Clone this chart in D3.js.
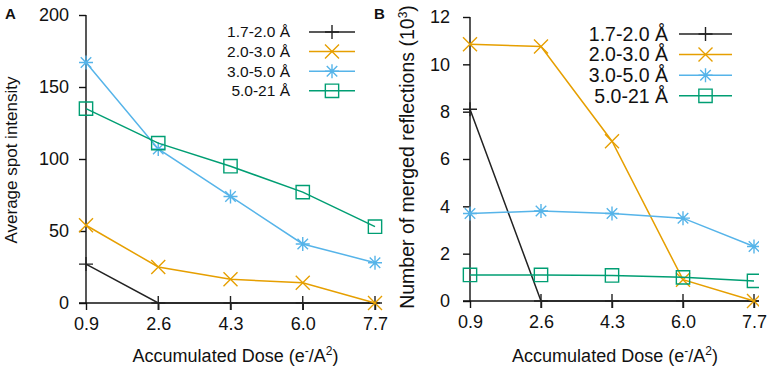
<!DOCTYPE html>
<html>
<head>
<meta charset="utf-8">
<script src="https://cdnjs.cloudflare.com/ajax/libs/d3/7.8.5/d3.min.js"></script>
<style>
  body { margin: 0; background: #fff; }
  svg { display: block; font-family: "Liberation Sans", Arial, sans-serif; }
</style>
</head>
<body>
<div id="chart"></div>
<script>
// accumulated dose values (x) and their tick labels
var doses = [0.9, 2.6, 4.3, 6.0, 7.7];
var doseLabels = ["0.9", "2.6", "4.3", "6.0", "7.7"];

// resolution shells
var shells = ["1.7-2.0 Å", "2.0-3.0 Å", "3.0-5.0 Å", "5.0-21 Å"];
var colors = ["#222222", "#E69F00", "#56B4E9", "#009E73"];
var markers = ["plus", "cross", "star", "square"];

// panel A: average spot intensity
var intensity17 = [27, 0, 0, 0, 0];
var intensity20 = [54, 25, 16.5, 14, 0];
var intensity30 = [167, 107, 74, 41, 28];
var intensity50 = [135, 111, 95, 77, 53];
var ticksA = [0, 50, 100, 150, 200];

// panel B: number of merged reflections (10^3)
var refl17 = [8.1, 0, 0, 0, 0];
var refl20 = [10.85, 10.75, 6.75, 0.9, 0];
var refl30 = [3.7, 3.8, 3.7, 3.5, 2.3];
var refl50 = [1.1, 1.1, 1.08, 1.0, 0.85];
var ticksB = [0, 2, 4, 6, 8, 10, 12];

var width = 772, height = 372;
var ink = '#111';

var svg = d3.select('#chart')
  .append('svg')
  .attr('width', width)
  .attr('height', height);

// draws one marker shape centred on 0,0
function markerPath(type, s) {
  if (type == "plus") return "M" + (-s) + ",0H" + s + "M0," + (-s) + "V" + s;
  if (type == "cross") return "M" + (-s) + "," + (-s) + "L" + s + "," + s + "M" + (-s) + "," + s + "L" + s + "," + (-s);
  if (type == "star") return markerPath("plus", s) + markerPath("cross", s * 0.75);
  var q = s * 0.95;
  return "M" + (-q) + "," + (-q) + "H" + q + "V" + q + "H" + (-q) + "Z";
}

function drawPanel(p) {
  var g = svg.append('g');

  var x = d3.scaleLinear().domain([0.9, 7.7]).range([p.left, p.right]);
  var y = d3.scaleLinear().domain(p.yDomain).range([p.bottom, p.top]);

  // clip the data marks like the original plot area
  g.append('clipPath').attr('id', 'clip' + p.label)
    .append('rect')
    .attr('x', p.left - 20).attr('y', 0)
    .attr('width', p.clipRight - p.left + 20).attr('height', height);

  // y axis
  var yAxis = g.append('g')
    .attr('transform', 'translate(' + p.left + ',0)')
    .call(d3.axisLeft(y).tickValues(p.yTicks).tickSize(7).tickSizeOuter(0).tickPadding(p.yPad));
  yAxis.select('.domain').remove();
  yAxis.selectAll('line').attr('stroke', ink).attr('stroke-width', 1.4);
  yAxis.selectAll('text').attr('font-size', 18).attr('fill', ink)
    .attr('font-family', '"Liberation Sans", Arial, sans-serif');

  // x axis
  var xAxis = g.append('g')
    .attr('transform', 'translate(0,' + p.bottom + ')')
    .call(d3.axisBottom(x).tickValues(doses).tickFormat(function(d, i) { return doseLabels[i]; })
      .tickSize(7).tickSizeOuter(0).tickPadding(7));
  xAxis.select('.domain').remove();
  xAxis.selectAll('line').attr('stroke', ink).attr('stroke-width', 1.4);
  xAxis.selectAll('text').attr('font-size', 18).attr('fill', ink)
    .attr('font-family', '"Liberation Sans", Arial, sans-serif');

  // axis lines
  g.append('line')
    .attr('x1', p.left).attr('x2', p.left)
    .attr('y1', p.top).attr('y2', p.bottom)
    .attr('stroke', ink).attr('stroke-width', 1.4);
  g.append('line')
    .attr('x1', p.left - 7).attr('x2', p.right + 5)
    .attr('y1', p.bottom).attr('y2', p.bottom)
    .attr('stroke', ink).attr('stroke-width', 1.4);

  var line = d3.line()
    .x(function(d, i) { return x(doses[i]); })
    .y(function(d) { return y(d); });

  var marks = g.append('g').attr('clip-path', 'url(#clip' + p.label + ')');

  p.series.forEach(function(vals, k) {
    marks.append('path')
      .attr('d', line(vals))
      .attr('fill', 'none')
      .attr('stroke', colors[k])
      .attr('stroke-width', 1.5);

    marks.selectAll('.m' + k)
      .data(vals)
      .enter()
      .append('path')
      .attr('class', 'm' + k)
      .attr('transform', function(d, i) { return 'translate(' + x(doses[i]) + ',' + y(d) + ')'; })
      .attr('d', markerPath(markers[k], 7))
      .attr('fill', 'none')
      .attr('stroke', colors[k])
      .attr('stroke-width', 1.4);

    if (markers[k] == "star") {
      marks.selectAll('.d' + k)
        .data(vals)
        .enter()
        .append('circle')
        .attr('cx', function(d, i) { return x(doses[i]); })
        .attr('cy', function(d) { return y(d); })
        .attr('r', 1.6)
        .attr('fill', colors[k]);
    }
  });

  // legend
  var leg = g.append('g');
  shells.forEach(function(s, k) {
    var ly = p.legTop + k * p.legStep;
    var mx = (p.legLine[0] + p.legLine[1]) / 2;
    leg.append('text')
      .attr('x', p.legText).attr('y', ly)
      .attr('dy', '0.35em')
      .attr('text-anchor', 'end')
      .attr('font-size', p.legFont)
      .attr('fill', ink)
      .text(s);
    leg.append('line')
      .attr('x1', p.legLine[0]).attr('x2', p.legLine[1])
      .attr('y1', ly).attr('y2', ly)
      .attr('stroke', colors[k]).attr('stroke-width', 1.5);
    leg.append('path')
      .attr('transform', 'translate(' + mx + ',' + ly + ')')
      .attr('d', markerPath(markers[k], 7))
      .attr('fill', 'none')
      .attr('stroke', colors[k])
      .attr('stroke-width', 1.4);
    if (markers[k] == "star") {
      leg.append('circle')
        .attr('cx', mx).attr('cy', ly)
        .attr('r', 1.6).attr('fill', colors[k]);
    }
  });

  // titles
  g.append('text')
    .attr('x', (p.left + p.right) / 2 + p.xTitleShift)
    .attr('y', 362)
    .attr('text-anchor', 'middle')
    .attr('font-size', 18)
    .attr('fill', ink)
    .html('Accumulated Dose (e<tspan dy="-7" font-size="12">-</tspan><tspan dy="7">/A</tspan><tspan dy="-7" font-size="12">2</tspan><tspan dy="7">)</tspan>');

  g.append('text')
    .attr('transform', 'translate(' + p.yTitleX + ',' + p.yTitleY + ') rotate(-90)')
    .attr('text-anchor', 'middle')
    .attr('font-size', p.yTitleFont)
    .attr('fill', ink)
    .html(p.yTitle);

  g.append('text')
    .attr('x', p.labelX).attr('y', 19)
    .attr('font-size', 15)
    .attr('font-weight', 'bold')
    .attr('fill', ink)
    .text(p.label);
}

drawPanel({
  label: 'A', labelX: 5,
  left: 86, right: 375, top: 15, bottom: 303, clipRight: 390,
  yDomain: [0, 200], yTicks: ticksA, yPad: 10,
  series: [intensity17, intensity20, intensity30, intensity50],
  legTop: 32, legStep: 19.6, legText: 290, legLine: [309, 355], legFont: 15.5,
  yTitle: 'Average spot intensity', yTitleX: 17, yTitleY: 160, yTitleFont: 17,
  xTitleShift: 5
});

drawPanel({
  label: 'B', labelX: 374,
  left: 470, right: 754, top: 17, bottom: 301, clipRight: 759,
  yDomain: [0, 12], yTicks: ticksB, yPad: 13,
  series: [refl17, refl20, refl30, refl50],
  legTop: 34, legStep: 20.6, legText: 668, legLine: [679, 732], legFont: 19.5,
  yTitle: 'Number of merged reflections (10<tspan dy="-7" font-size="12">3</tspan><tspan dy="7">)</tspan>',
  yTitleX: 414, yTitleY: 157, yTitleFont: 19.5,
  xTitleShift: 3
});
</script>
</body>
</html>
